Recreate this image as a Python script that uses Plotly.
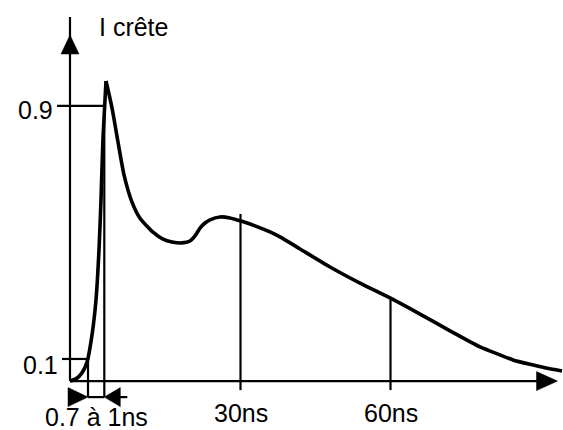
import numpy as np
import plotly.graph_objects as go

# ---- data (schematic ESD current waveform) ----
time_ns = [-4.1, -2.9, -1.7, -0.7, 0.3, 1.1, 1.7, 2.1, 2.5, 3.1, 4.3, 5.5, 6.7, 8.3,
           9.9, 12.5, 14.5, 16.3, 18.3, 19.9, 20.9, 21.9, 22.9, 23.9, 25.9, 27.9,
           30.1, 32.9, 35.9, 37.9, 41.9, 47.9, 53.9, 59.9, 65.9, 71.9, 77.9, 81.9, 84.5,
           87.9, 90.9, 94.3]
current = [0.030, 0.037, 0.056, 0.090, 0.176, 0.287, 0.445, 0.603, 0.800, 0.979, 0.894,
           0.786, 0.682, 0.596, 0.545, 0.501, 0.479, 0.470, 0.467, 0.473,
           0.489, 0.514, 0.530, 0.540, 0.549, 0.546, 0.536, 0.521, 0.502, 0.486, 0.448,
           0.391, 0.340, 0.293, 0.242, 0.189, 0.138, 0.113, 0.097, 0.083, 0.072, 0.062]

level_values = [0.1, 0.9]
level_labels = ["0.1", "0.9"]
rise_times = [-0.5, 2.76]          # crossing times of the 10 % / 90 % levels
rise_label = "0.7 à 1ns"

time_marks = [30, 60]
time_labels = ["30ns", "60ns"]

y_title = "I crête"

# ---- geometry (schematic frame) ----
W, H = 563, 430
X_RANGE = [-18.1, 94.5]
Y_RANGE = [-0.1246, 1.2351]
PX_T = W / (X_RANGE[1] - X_RANGE[0])
PX_I = H / (Y_RANGE[1] - Y_RANGE[0])


def dx(px):
    return px / PX_T


def dy(px):
    return px / PX_I


T0, I0 = time_ns[0], current[0]          # origin of the drawn axes
X_TIP = X_RANGE[0] + dx(557.5)
Y_TIP = Y_RANGE[1] - dy(35)
FONT = dict(family="Liberation Sans, Arial, sans-serif", size=25, color="black")
LW = 2.2

fig = go.Figure()
k = int(np.argmax(current))  # sharp peak: smooth each side separately
for xs, ys in ((time_ns[:k + 1], current[:k + 1]), (time_ns[k:], current[k:])):
    fig.add_trace(go.Scatter(x=xs, y=ys, mode="lines",
                             line=dict(color="black", width=3.6, shape="spline", smoothing=0.6),
                             hoverinfo="skip"))

shapes = []


def line(x0, y0, x1, y1, w=LW):
    shapes.append(dict(type="line", x0=x0, y0=y0, x1=x1, y1=y1,
                       line=dict(color="black", width=w), layer="below"))


def tri(points):
    p = "M " + " L ".join(f"{x},{y}" for x, y in points) + " Z"
    shapes.append(dict(type="path", path=p, fillcolor="black",
                       line=dict(color="black", width=0.5)))


# axes with arrowheads
line(T0, I0, T0, Y_TIP + dy(18))
tri([(T0, Y_TIP), (T0 - dx(9), Y_TIP - dy(19)), (T0 + dx(9), Y_TIP - dy(19))])
line(T0, I0, X_TIP - dx(20), I0)
tri([(X_TIP, I0), (X_TIP - dx(21), I0 + dy(9.5)), (X_TIP - dx(21), I0 - dy(9.5))])

# level ticks, drop lines and labels
tick_left = [dx(8), dx(13)]
label_shift = [-6, -4]
annotations = []
for v, lab, tr, tl, ls in zip(level_values, level_labels, rise_times, tick_left, label_shift):
    line(T0 - tl, v, tr, v)
    line(tr, v, tr, I0 - dy(16))
    annotations.append(dict(x=T0 - tl, y=v, text=lab, showarrow=False, xanchor="right",
                            yanchor="middle", font=FONT, xshift=-2, yshift=ls))

# rise-time dimension arrows
yb = I0 - dy(16)
line(rise_times[0], yb, rise_times[1], yb)
tri([(rise_times[0], yb), (rise_times[0] - dx(20), yb + dy(9.5)), (rise_times[0] - dx(20), yb - dy(9.5))])
tri([(rise_times[1], yb), (rise_times[1] + dx(16), yb + dy(9.5)), (rise_times[1] + dx(16), yb - dy(9.5))])
line(rise_times[1] + dx(15), yb, rise_times[1] + dx(23), yb)
annotations.append(dict(x=(rise_times[0] + rise_times[1]) / 2, y=yb, text=rise_label,
                        showarrow=False, xanchor="center", yanchor="top", font=FONT, yshift=-4))

# time marks
overshoot = [7, 0]
for t, lab, ov in zip(time_marks, time_labels, overshoot):
    top = float(np.interp(t, time_ns, current)) + dy(ov)
    line(t, top, t, I0 - dy(9))
    annotations.append(dict(x=t, y=I0, text=lab, showarrow=False, xanchor="center",
                            yanchor="top", font=FONT, yshift=-16))

annotations.append(dict(x=T0 + dx(27), y=Y_RANGE[1] - dy(27), text=y_title, showarrow=False,
                        xanchor="left", yanchor="middle", font=FONT))

fig.update_layout(
    width=W, height=H, margin=dict(l=0, r=0, t=0, b=0),
    paper_bgcolor="white", plot_bgcolor="white", showlegend=False,
    xaxis=dict(range=X_RANGE, visible=False, fixedrange=True),
    yaxis=dict(range=Y_RANGE, visible=False, fixedrange=True),
    shapes=shapes, annotations=annotations,
)
fig.write_html("out.html", config={"displayModeBar": False},
               post_script="document.body.style.margin='0';document.body.style.overflow='hidden';")
